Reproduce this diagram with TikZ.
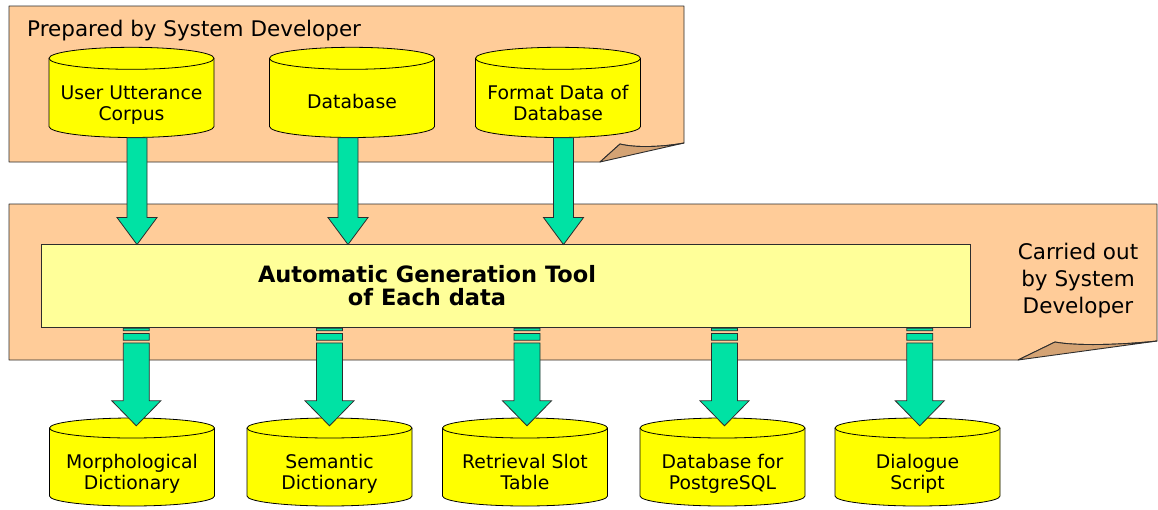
\documentclass[tikz,border=0pt]{standalone}
\usepackage{fontspec}
\setmainfont{DejaVu Sans}
\usetikzlibrary{calc}
\definecolor{panelc}{RGB}{255,204,153}
\definecolor{foldc}{RGB}{212,163,116}
\definecolor{cylc}{RGB}{255,255,0}
\definecolor{toolc}{RGB}{255,255,153}
\definecolor{arrc}{RGB}{0,226,164}
\definecolor{edgec}{RGB}{45,45,45}
\tikzset{
  panelbox/.style={fill=panelc,draw=edgec,line width=0.9pt,line join=round},
  foldbox/.style={fill=foldc,draw=edgec,line width=0.9pt,line join=round},
  cylbody/.style={fill=cylc,draw=black,line width=0.8pt},
  cyltext/.style={align=center,inner sep=0pt,text depth=4.4pt,font=\fontsize{18.8}{21}\selectfont},
  toolbox/.style={fill=toolc,draw=edgec,line width=0.9pt,minimum width=929pt,minimum height=83pt,inner sep=0pt},
  blockarrow/.style={fill=arrc,draw=edgec,line width=0.8pt,line join=miter},
  bigtext/.style={font=\fontsize{21.5}{27}\selectfont,inner sep=0pt}
}
% #1 name, #2 cx, #3 top ellipse centre y, #4 bottom ellipse centre y, #5 ry, #6 text y, #7 text
\newcommand\dbcyl[7]{%
  \path[cylbody] ({#2-82.5},#3) -- ({#2-82.5},#4)
     arc[start angle=180,end angle=360,x radius=82.5pt,y radius=#5pt]
     -- ({#2+82.5},#3)
     arc[start angle=0,end angle=180,x radius=82.5pt,y radius=#5pt] -- cycle;
  \draw[black,line width=0.8pt] ({#2-82.5},#3)
     arc[start angle=180,end angle=360,x radius=82.5pt,y radius=#5pt];
  \node[inner sep=0pt,minimum width=165pt,minimum height={#4-#3+2*#5}] (#1) at (#2,{(#3+#4)/2}) {};
  \node[cyltext] (#1t) at (#2,#6) {#7};
}
% top arrow: from cylinder node to tool node, xshift
\newcommand\inarrow[3]{%
  \draw[blockarrow] let \p1=([xshift=#3pt]#1.south), \p2=(#2.north) in
    (\x1-10pt,\y1) -- (\x1-10pt,\y2+26pt) -- (\x1-20pt,\y2+26pt) -- (\x1,\y2-1pt)
    -- (\x1+20pt,\y2+26pt) -- (\x1+10pt,\y2+26pt) -- (\x1+10pt,\y1) -- cycle;
}
% bottom arrow: from tool node to cylinder node, xshift
\newcommand\outarrow[3]{%
  \draw[blockarrow] let \p1=([xshift=#3pt]#1.south -| #2.north), \p2=(#2.north) in
    (\x1-13pt,\y1-0.7pt) rectangle (\x1+13pt,\y1-3.3pt)
    (\x1-13pt,\y1-6pt) rectangle (\x1+13pt,\y1-12.7pt)
    (\x1-13pt,\y1-15.5pt) -- (\x1-13pt,\y2+17pt) -- (\x1-24.5pt,\y2+17pt) -- (\x1,\y2-8pt)
    -- (\x1+24.5pt,\y2+17pt) -- (\x1+13pt,\y2+17pt) -- (\x1+13pt,\y1-15.5pt) -- cycle;
}
\begin{document}
\begin{tikzpicture}[x=1pt,y=-1pt]
\useasboundingbox (0,0) rectangle (1158,509);
\fill[white] (0,0) rectangle (1158,509);
% top panel
\draw[panelbox] (9,6) -- (684,6) -- (684,143) .. controls (662,147) and (636,148) .. (620,144)
   -- (600,162) -- (9,162) -- cycle;
\draw[foldbox] (620,144) .. controls (636,148) and (662,147) .. (684,143) -- (600,162) -- cycle;
\node[bigtext,anchor=base west] (prep) at (27,36) {Prepared by System Developer};
% bottom panel
\draw[panelbox] (9,204) -- (1157,204) -- (1157,341) .. controls (1120,345) and (1075,346) .. (1055,342)
   -- (1018,360) -- (9,360) -- cycle;
\draw[foldbox] (1055,342) .. controls (1075,346) and (1120,345) .. (1157,341) -- (1018,360) -- cycle;
\node[bigtext,align=center] (carried) at (1078,280.4) {Carried out\\by System\\Developer};
% tool
\node[toolbox] (tool) at (505.5,285.5) {};
\node[inner sep=0pt,align=center,font=\fontsize{22.5}{22.5}\bfseries\selectfont] (tooltext) at (427,285.4)
   {Automatic Generation Tool\\of Each data};
% top cylinders
\dbcyl{corpus}{131.5}{58.3}{126.5}{11}{105}{User Utterance\\Corpus}
\dbcyl{db}{352}{58.3}{126.5}{11}{104}{Database}
\dbcyl{fmt}{558}{58.3}{126.5}{11}{105}{Format Data of\\Database}
% bottom cylinders
\dbcyl{morph}{132}{428}{496}{10}{474.5}{Morphological\\Dictionary}
\dbcyl{sem}{329.5}{428}{496}{10}{474.5}{Semantic\\Dictionary}
\dbcyl{slot}{525}{428}{496}{10}{474.5}{Retrieval Slot\\Table}
\dbcyl{pg}{722.5}{428}{496}{10}{474.5}{Database for\\PostgreSQL}
\dbcyl{dlg}{917.5}{428}{496}{10}{474.5}{Dialogue\\Script}
% arrows
\inarrow{corpus}{tool}{5.5}
\inarrow{db}{tool}{-4}
\inarrow{fmt}{tool}{5.5}
\outarrow{tool}{morph}{4.3}
\outarrow{tool}{sem}{0}
\outarrow{tool}{slot}{2}
\outarrow{tool}{pg}{2}
\outarrow{tool}{dlg}{2.3}
\end{tikzpicture}
\end{document}
